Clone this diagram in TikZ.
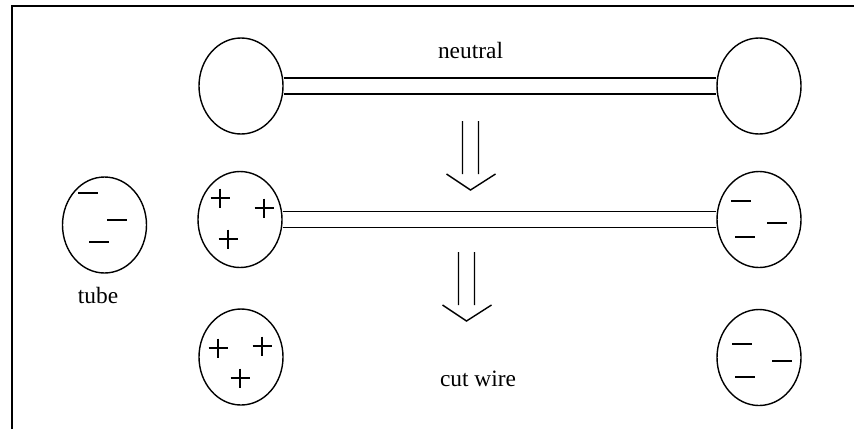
\documentclass[tikz,border=0pt]{standalone}
\usepackage{fontspec}
\setmainfont{Liberation Serif}
\usetikzlibrary{shapes,positioning}
\tikzset{
  poscharge/.pic={\draw[line width=0.65pt] (-9.5,0) -- (9.5,0) (0,-9.5) -- (0,9.5);},
  negcharge/.pic={\draw[line width=0.65pt] (-10,0) -- (10,0);},
  downimplies/.pic={\draw[line width=0.7pt] (-8,0) -- (-8,53) (8,0) -- (8,53) (-24,53) -- (0,69) -- (25,53);}
}
\begin{document}
\begin{tikzpicture}[x=0.5pt,y=-0.5pt,
    ball/.style={draw,ellipse,line width=0.7pt,minimum width=42pt,minimum height=48pt,inner sep=0pt},
    wire/.style={line width=0.7pt},
    lbl/.style={anchor=base,inner sep=0pt,font=\fontsize{11.7}{14}\selectfont}]
  \useasboundingbox (0,0) rectangle (854,429);
  \draw[line width=1pt] (11.7,429) -- (11.7,5.7) -- (854,5.7);
  \begin{scope}
    \node[ball] (An) at (241,86) {};
    \node[ball] (Bn) at (759,86) {};
    \draw[wire] ([yshift=4pt]An.east) -- ([yshift=4pt]Bn.west);
    \draw[wire] ([yshift=-4pt]An.east) -- ([yshift=-4pt]Bn.west);
    \node[lbl] (neutral) at (470.5,58) {neutral};
  \end{scope}
  \pic at (470.5,121) {downimplies};
  \begin{scope}
    \node[ball] (T) at (104.5,225) {};
    \node[lbl] (tube) at (98,303) {tube};
    \pic at (88,193) {negcharge};
    \pic at (117,220) {negcharge};
    \pic at (99,242) {negcharge};
    \node[ball] (Ai) at (240,219.5) {};
    \node[ball] (Bi) at (759,219.5) {};
    \draw[wire] ([yshift=4pt]Ai.east) -- ([yshift=4pt]Bi.west);
    \draw[wire] ([yshift=-4pt]Ai.east) -- ([yshift=-4pt]Bi.west);
    \pic at (220,198) {poscharge};
    \pic at (264,208) {poscharge};
    \pic at (228,239) {poscharge};
    \pic at (741,201) {negcharge};
    \pic at (777,223) {negcharge};
    \pic at (745,237) {negcharge};
  \end{scope}
  \pic at (466.5,252) {downimplies};
  \begin{scope}
    \node[ball] (Ac) at (241,357) {};
    \node[ball] (Bc) at (759,357.5) {};
    \node[lbl] (cut) at (478,386) {cut wire};
    \pic at (218,348) {poscharge};
    \pic at (262,346) {poscharge};
    \pic at (240,378) {poscharge};
    \pic at (742,344) {negcharge};
    \pic at (782,361) {negcharge};
    \pic at (745,377) {negcharge};
  \end{scope}
\end{tikzpicture}
\end{document}
